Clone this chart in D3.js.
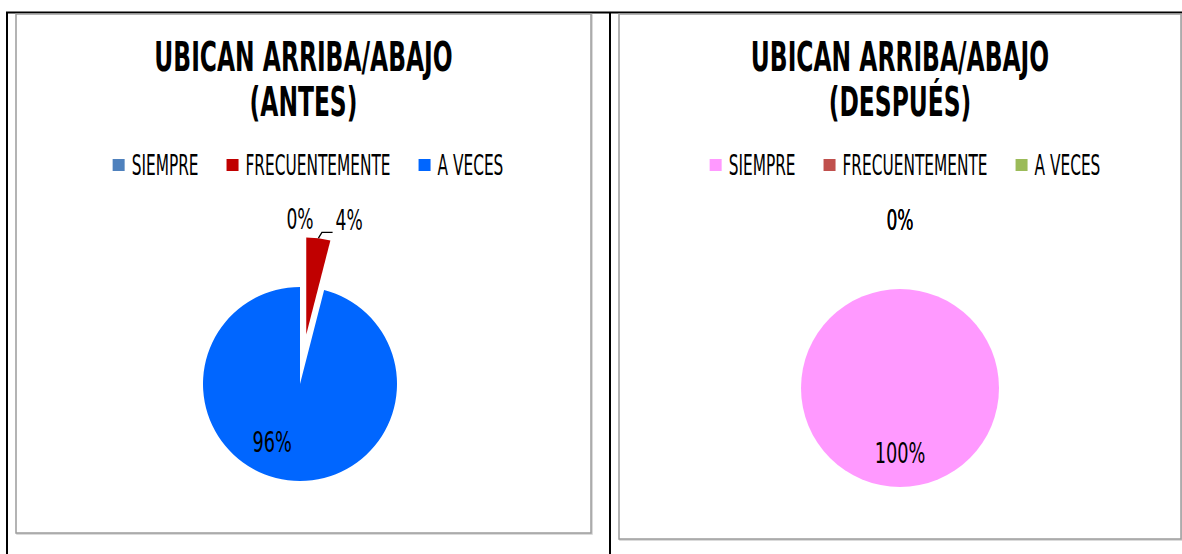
<!DOCTYPE html>
<html>
<head>
<meta charset="utf-8">
<script src="https://cdn.jsdelivr.net/npm/d3@7"></script>
<style>
  body { margin: 0; background: #fff; }
  svg { display: block; }
  text { font-family: "Liberation Sans Narrow", "DejaVu Sans Condensed", "Roboto", sans-serif; fill: #000; }
</style>
</head>
<body>
<svg id="chart" width="1182" height="554"></svg>
<script>
// categories and values
var categories = ["SIEMPRE", "FRECUENTEMENTE", "A VECES"];
var antesValues = [0, 4, 96];
var despuesValues = [100, 0, 0];
var antesColors = ["#4F81BD", "#C00000", "#0066FF"];
var despuesColors = ["#FF99FF", "#C0504D", "#9BBB59"];
var antesTitle = ["UBICAN ARRIBA/ABAJO", "(ANTES)"];
var despuesTitle = ["UBICAN ARRIBA/ABAJO", "(DESPUÉS)"];

var svg = d3.select("#chart");

// table lines round the two cells
svg.append("line").attr("x1", 6).attr("x2", 1182).attr("y1", 12.5).attr("y2", 12.5)
    .attr("stroke", "#000").attr("stroke-width", 2);
svg.append("line").attr("x1", 7).attr("x2", 7).attr("y1", 12).attr("y2", 554)
    .attr("stroke", "#000").attr("stroke-width", 2);
svg.append("line").attr("x1", 610).attr("x2", 610).attr("y1", 12).attr("y2", 554)
    .attr("stroke", "#000").attr("stroke-width", 2);

var TITLE_SX = 0.65, LEGEND_SX = 0.61, LABEL_SX = 0.68;

function squeezed(g, str, x, y, size, weight, sx, anchor) {
    var t = g.append("text")
        .attr("transform", "translate(" + x + "," + y + ") scale(" + sx + ",1)")
        .attr("font-size", size)
        .attr("font-weight", weight)
        .attr("text-anchor", anchor || "middle")
        .text(str);
    return t;
}

function drawPie(cfg) {
    var g = svg.append("g");
    var box = cfg.box;
    // chart area border (grey, with a light shadow)
    g.append("rect").attr("x", box.x + 1).attr("y", box.y + 1).attr("width", box.w).attr("height", box.h)
        .attr("fill", "none").attr("stroke", "#cfcfcf").attr("stroke-width", 1.5);
    g.append("rect").attr("x", box.x).attr("y", box.y).attr("width", box.w).attr("height", box.h)
        .attr("fill", "#fff").attr("stroke", "#9c9c9c").attr("stroke-width", 1.5);

    var midX = box.x + box.w / 2;
    squeezed(g, cfg.title[0], midX, box.y + 57, 40, "bold", TITLE_SX);
    squeezed(g, cfg.title[1], midX, box.y + 102, 40, "bold", TITLE_SX);

    // legend, centred as a group
    var lg = g.append("g");
    var xpos = 0;
    categories.forEach(function (c, i) {
        lg.append("rect").attr("x", xpos).attr("y", -16).attr("width", 12).attr("height", 12)
            .attr("fill", cfg.colors[i]);
        var t = squeezed(lg, c, xpos + 19, 0, 28, "normal", LEGEND_SX, "start");
        var w = t.node().getComputedTextLength() * LEGEND_SX;
        xpos += 19 + w + (i < categories.length - 1 ? 28 : 0);
    });
    lg.attr("transform", "translate(" + (midX + cfg.legendShift - xpos / 2) + "," + (box.y + 161) + ")");

    var cx = cfg.cx, cy = cfg.cy, r = cfg.r;
    var pie = d3.pie().sort(null).value(function (d) { return d; });
    var arcs = pie(cfg.values);
    var arc = d3.arc().innerRadius(0).outerRadius(r);
    var total = d3.sum(cfg.values);

    var pg = g.append("g").attr("transform", "translate(" + cx + "," + cy + ")");
    arcs.forEach(function (a, i) {
        var mid = (a.startAngle + a.endAngle) / 2;
        var off = i === cfg.explode ? cfg.explodeBy : 0;
        a.dx = Math.sin(mid) * off;
        a.dy = -Math.cos(mid) * off;
        if (a.value > 0) {
            pg.append("path").attr("d", arc(a))
                .attr("transform", "translate(" + a.dx + "," + a.dy + ")")
                .attr("fill", cfg.colors[i]);
        }
    });

    // data labels
    var prevRight = -Infinity;
    arcs.forEach(function (a, i) {
        var pct = Math.round(a.value / total * 100) + "%";
        var mid = (a.startAngle + a.endAngle) / 2;
        var lx, ly;
        if (a.value / total > 0.5) {
            var ang = mid + cfg.insideTurn;
            lx = Math.sin(ang) * r * 0.66;
            ly = -Math.cos(ang) * r * 0.66 + 10;
            squeezed(pg, pct, lx, ly, 29, "normal", LABEL_SX);
            return;
        }
        lx = Math.sin(mid) * r * 1.7;
        ly = -Math.cos(mid) * r * 1.7 + 10;
        var t = squeezed(pg, pct, lx, ly, 28, "normal", LABEL_SX, "start");
        var w = t.node().getComputedTextLength() * LABEL_SX;
        lx -= w / 2;
        if (a.value > 0 && lx < prevRight + 22) {
            lx = prevRight + 22;
            // leader line from the slice edge to the moved label
            var ex = a.dx + Math.sin(mid) * r, ey = a.dy - Math.cos(mid) * r;
            pg.append("polyline")
                .attr("points", [[ex, ey], [ex + 3.5, ly + 2], [lx - 3, ly + 2]].map(function (p) { return p.join(","); }).join(" "))
                .attr("fill", "none").attr("stroke", "#000").attr("stroke-width", 1.3);
        }
        t.attr("transform", "translate(" + lx + "," + ly + ") scale(" + LABEL_SX + ",1)");
        if (a.value === 0) prevRight = Math.max(prevRight, lx + w);
        else prevRight = lx + w;
    });
}

drawPie({
    box: { x: 16, y: 14, w: 575, h: 519 },
    title: antesTitle, values: antesValues, colors: antesColors,
    cx: 300, cy: 384, r: 97, explode: 1, explodeBy: 50,
    insideTurn: 18.5 * Math.PI / 180, legendShift: 4.5
});
drawPie({
    box: { x: 619, y: 14, w: 562, h: 525 },
    title: despuesTitle, values: despuesValues, colors: despuesColors,
    cx: 900, cy: 388, r: 99, explode: -1, explodeBy: 0,
    insideTurn: 0, legendShift: 5
});
</script>
</body>
</html>
